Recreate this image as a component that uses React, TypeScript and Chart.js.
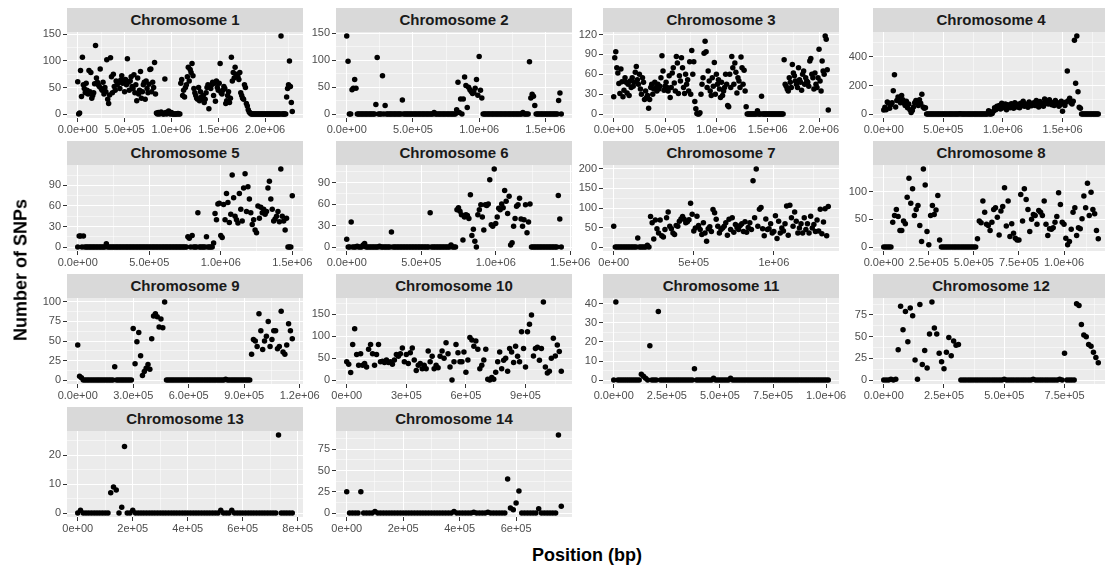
import React, { useEffect, useRef } from "react";
import { Chart, registerables } from "chart.js";

Chart.register(...registerables);

const FONT = "'Liberation Sans', Arial, Helvetica, sans-serif";
// SNPs are counted in consecutive 10 kb windows; window i starts at i * WINDOW_BP
const WINDOW_BP = 10000;

const chr1Snps = [
  61, 0, 2, 82, 33, 107, 55, 48, 40, 58,
  45, 38, 82, 42, 78, 30, 35, 40, 57, 129,
  68, 60, 55, 52, 85, 48, 45, 60, 38, 50,
  42, 102, 28, 20, 36, 106, 70, 40, 75, 52,
  45, 62, 55, 58, 60, 48, 64, 72, 58, 60,
  42, 65, 55, 104, 60, 45, 62, 70, 52, 48,
  74, 40, 55, 25, 68, 38, 45, 80, 30, 42,
  55, 60, 28, 62, 48, 40, 56, 84, 85, 42,
  60, 50, 97, 38, 2, 0, 3, 0, 1, 4,
  2, 0, 0, 66, 3, 0, 2, 6, 1, 0,
  3, 0, 0, 0, 0, 0, 0, 1, 0, 0,
  58, 65, 35, 45, 32, 50, 55, 70, 88, 62,
  84, 78, 95, 72, 48, 40, 35, 30, 28, 50,
  25, 42, 32, 30, 35, 22, 28, 40, 50, 55,
  10, 52, 48, 55, 60, 35, 58, 24, 62, 50,
  45, 58, 95, 40, 38, 45, 52, 48, 20, 25,
  35, 42, 22, 30, 107, 62, 78, 68, 88, 72,
  75, 70, 65, 78, 40, 35, 30, 28, 55, 50,
  20, 15, 8, 4, 2, 0, 0, 0, 0, 0,
  0, 0, 0, 0, 0, 0, 0, 0, 0, 0,
  0, 0, 0, 0, 0, 0, 0, 0, 0, 0,
  0, 0, 0, 0, 0, 0, 0, 147, 0, 0,
  0, 0, 0, 32, 48, 55, 100, 52, 22, 5,
];

const chr2Snps = [
  145, 98, 0, 0, 45, 48, 64, 48, 0, 0,
  0, 0, 0, 0, 0, 0, 0, 0, 0, 0,
  0, 0, 18, 105, 0, 0, 0, 71, 0, 16,
  0, 0, 0, 0, 0, 0, 0, 0, 0, 0,
  0, 0, 26, 0, 0, 0, 0, 0, 0, 0,
  0, 0, 0, 0, 0, 0, 0, 0, 0, 0,
  0, 0, 0, 0, 0, 0, 3, 0, 0, 0,
  0, 0, 0, 0, 0, 0, 0, 0, 0, 0,
  0, 0, 0, 8, 59, 3, 28, 0, 28, 69,
  53, 12, 50, 45, 42, 38, 40, 48, 64, 35,
  107, 44, 30, 0, 0, 0, 0, 0, 0, 0,
  0, 0, 0, 0, 0, 0, 0, 0, 0, 0,
  0, 0, 0, 0, 0, 0, 0, 0, 0, 0,
  0, 0, 0, 3, 0, 0, 0, 0, 97, 30,
  37, 33, 16, 0, 0, 0, 0, 0, 0, 0,
  0, 0, 0, 0, 0, 0, 0, 0, 0, 0,
  25, 39, 0,
];

const chr3Snps = [
  26, 85, 94, 70, 62, 46, 31, 68, 49, 26,
  36, 55, 48, 32, 45, 28, 50, 40, 55, 42,
  48, 63, 72, 52, 45, 60, 38, 30, 55, 48,
  22, 35, 25, 28, 9, 22, 40, 45, 30, 38,
  48, 40, 35, 45, 38, 42, 55, 88, 65, 36,
  42, 48, 40, 35, 58, 25, 40, 62, 70, 47,
  35, 87, 77, 31, 58, 50, 85, 70, 40, 31,
  60, 45, 52, 35, 79, 30, 96, 60, 79, 19,
  8, 1, 0, 0, 2, 30, 45, 55, 92, 110,
  94, 40, 65, 50, 35, 28, 55, 42, 78, 30,
  60, 45, 52, 38, 25, 48, 28, 35, 40, 60,
  45, 13, 11, 60, 40, 87, 70, 45, 77, 63,
  32, 55, 50, 40, 86, 70, 45, 66, 35, 11,
  0, 0, 0, 0, 0, 0, 0, 0, 0, 0,
  5, 0, 0, 0, 27, 0, 0, 0, 0, 0,
  0, 0, 0, 0, 0, 0, 0, 0, 0, 0,
  0, 0, 0, 0, 0, 0, 82, 45, 42, 38,
  35, 55, 48, 40, 75, 62, 58, 50, 45, 40,
  70, 52, 48, 36, 60, 65, 45, 55, 50, 48,
  42, 80, 84, 60, 55, 38, 62, 45, 40, 55,
  98, 50, 35, 80, 65, 60, 118, 113, 67, 6,
];

const chr4Snps = [
  29, 48, 30, 84, 75, 40, 65, 80, 163, 276,
  50, 95, 120, 110, 80, 130, 100, 75, 60, 90,
  45, 70, 30, 12, 25, 50, 80, 95, 85, 60,
  100, 75, 139, 50, 40, 45, 0, 0, 0, 0,
  0, 0, 0, 0, 0, 0, 0, 0, 0, 0,
  0, 0, 0, 0, 0, 0, 0, 0, 0, 0,
  0, 0, 0, 0, 3, 0, 0, 0, 0, 0,
  0, 0, 0, 0, 0, 0, 0, 0, 0, 0,
  0, 0, 0, 0, 0, 0, 0, 0, 24, 0,
  0, 5, 20, 45, 30, 55, 40, 60, 35, 75,
  50, 45, 70, 30, 65, 55, 45, 72, 60, 40,
  80, 58, 50, 68, 45, 75, 60, 90, 55, 70,
  62, 48, 85, 65, 58, 72, 80, 60, 95, 70,
  50, 88, 65, 75, 55, 105, 90, 80, 70, 100,
  85, 65, 75, 60, 95, 70, 80, 55, 65, 90,
  20, 75, 60, 85, 302, 95, 110, 80, 70, 90,
  516, 216, 547, 156, 48, 41, 0, 0, 0, 0,
  0, 0, 0, 0, 0, 0, 0, 0, 0, 0,
  0,
];

const chr5Snps = [
  0, 16, 16, 0, 16, 0, 0, 0, 0, 0,
  0, 0, 0, 0, 0, 0, 0, 0, 0, 0,
  5, 0, 0, 0, 0, 0, 0, 0, 0, 0,
  0, 0, 0, 0, 0, 0, 0, 0, 0, 0,
  0, 0, 0, 0, 0, 0, 0, 0, 0, 0,
  0, 0, 0, 0, 0, 0, 0, 0, 0, 0,
  0, 0, 0, 0, 0, 0, 0, 0, 0, 0,
  0, 0, 0, 0, 0, 0, 0, 15, 13, 0,
  17, 0, 0, 0, 50, 0, 0, 0, 0, 0,
  15, 0, 0, 0, 0, 6, 49, 40, 63, 64,
  17, 14, 62, 40, 78, 65, 36, 48, 105, 72,
  45, 40, 35, 78, 55, 38, 86, 107, 52, 88,
  70, 50, 33, 40, 25, 21, 60, 42, 58, 50,
  55, 48, 52, 86, 96, 70, 55, 38, 41, 45,
  52, 37, 114, 45, 38, 25, 42, 0, 0, 0,
  75,
];

const chr6Snps = [
  11, 0, 0, 35, 0, 0, 0, 1, 0, 0,
  0, 3, 5, 0, 0, 0, 0, 0, 0, 0,
  0, 0, 1, 0, 0, 0, 0, 0, 0, 0,
  21, 0, 0, 0, 0, 0, 0, 0, 0, 0,
  0, 0, 0, 0, 0, 0, 0, 0, 0, 0,
  0, 0, 0, 0, 0, 0, 48, 0, 0, 0,
  0, 0, 0, 0, 0, 0, 0, 0, 0, 0,
  3, 0, 0, 0, 52, 55, 50, 45, 10, 42,
  45, 44, 40, 73, 16, 25, 8, 0, 45, 52,
  59, 42, 24, 59, 58, 60, 94, 31, 29, 109,
  33, 42, 54, 52, 60, 55, 79, 64, 47, 71,
  3, 6, 29, 40, 57, 59, 68, 39, 29, 38,
  59, 20, 35, 60, 0, 0, 0, 0, 0, 0,
  0, 0, 0, 0, 0, 0, 0, 0, 0, 0,
  0, 0, 72, 39, 0,
];

const chr7Snps = [
  53, 0, 0, 0, 0, 0, 0, 0, 0, 0,
  0, 0, 0, 0, 0, 23, 0, 0, 0, 0,
  0, 5, 0, 78, 62, 21, 69, 47, 36, 69,
  29, 26, 45, 75, 90, 53, 47, 36, 32, 55,
  53, 66, 72, 78, 71, 62, 65, 70, 112, 84,
  41, 49, 79, 55, 45, 32, 62, 36, 15, 47,
  52, 40, 96, 88, 71, 53, 36, 45, 49, 53,
  62, 30, 71, 45, 75, 38, 58, 50, 45, 55,
  60, 40, 65, 38, 50, 62, 45, 170, 75, 200,
  53, 97, 101, 47, 29, 72, 45, 47, 60, 36,
  40, 80, 22, 66, 36, 49, 41, 60, 105, 30,
  107, 75, 53, 90, 66, 36, 49, 60, 36, 75,
  45, 60, 36, 79, 49, 58, 40, 69, 41, 97,
  34, 64, 98, 29, 104,
];

const chr8Snps = [
  0, 0, 0, 0, 0, 45, 57, 68, 55, 30,
  30, 47, 42, 90, 124, 79, 105, 57, 68, 75,
  39, 10, 141, 112, 28, 4, 57, 75, 59, 67,
  93, 13, 0, 0, 0, 0, 0, 0, 0, 0,
  0, 0, 0, 0, 0, 0, 0, 0, 0, 0,
  0, 0, 15, 47, 44, 83, 63, 41, 39, 30,
  45, 68, 71, 54, 22, 65, 73, 107, 38, 83,
  19, 42, 25, 16, 13, 13, 95, 47, 105, 86,
  68, 28, 50, 59, 57, 41, 66, 63, 57, 83,
  41, 21, 33, 32, 35, 45, 55, 98, 77, 45,
  41, 16, 4, 10, 32, 63, 71, 21, 35, 33,
  51, 92, 71, 115, 57, 99, 68, 60, 30, 15,
];

const chr9Snps = [
  45, 5, 3, 0, 0, 0, 0, 0, 0, 0,
  0, 0, 0, 0, 0, 0, 0, 0, 0, 0,
  17, 0, 0, 0, 0, 0, 0, 0, 0, 0,
  66, 21, 49, 61, 31, 6, 11, 15, 20, 14,
  53, 82, 85, 81, 68, 78, 67, 100, 0, 0,
  0, 0, 0, 0, 0, 0, 0, 0, 0, 0,
  0, 0, 0, 0, 0, 0, 0, 0, 0, 0,
  0, 0, 0, 0, 0, 0, 0, 0, 0, 0,
  1, 0, 0, 0, 0, 0, 0, 0, 0, 0,
  0, 0, 0, 0, 33, 52, 50, 43, 85, 63,
  39, 50, 56, 75, 43, 52, 63, 63, 40, 43,
  88, 36, 33, 45, 72, 63, 53,
];

const chr10Snps = [
  42, 36, 17, 81, 117, 58, 34, 60, 34, 38,
  30, 70, 81, 60, 34, 58, 81, 42, 43, 40,
  46, 40, 42, 36, 46, 58, 54, 60, 73, 42,
  58, 38, 62, 73, 46, 22, 34, 38, 26, 34,
  26, 66, 42, 54, 26, 34, 28, 54, 66, 50,
  85, 60, 30, 0, 42, 81, 62, 42, 42, 64,
  18, 46, 97, 91, 77, 89, 70, 26, 34, 46,
  70, 2, 0, 6, 2, 18, 42, 64, 26, 45,
  50, 20, 72, 64, 40, 77, 54, 42, 110, 72,
  30, 110, 127, 148, 55, 72, 75, 45, 72, 178,
  30, 16, 20, 50, 95, 55, 80, 65, 20,
];

const chr11Snps = [
  0, 41, 0, 0, 0, 0, 0, 0, 0, 0,
  0, 0, 0, 3, 2, 1, 0, 18, 0, 0,
  0, 36, 0, 0, 0, 0, 0, 0, 0, 0,
  0, 0, 0, 0, 0, 0, 0, 0, 6, 0,
  0, 0, 0, 0, 0, 0, 0, 1, 0, 0,
  0, 0, 0, 0, 0, 1, 0, 0, 0, 0,
  0, 0, 0, 0, 0, 0, 0, 0, 0, 0,
  0, 0, 0, 0, 0, 0, 0, 0, 0, 0,
  0, 0, 0, 0, 0, 0, 0, 0, 0, 0,
  0, 0, 0, 0, 0, 0, 0, 0, 0, 0,
  0, 0,
];

const chr12Snps = [
  0, 0, 0, 1, 0, 1, 35, 85, 58, 79,
  44, 83, 74, 23, 1, 87, 18, 34, 14, 53,
  90, 60, 53, 31, 21, 13, 32, 49, 28, 45,
  40, 41, 0, 0, 0, 0, 0, 0, 0, 0,
  0, 0, 0, 0, 0, 0, 0, 0, 0, 0,
  1, 0, 0, 0, 0, 0, 0, 0, 0, 0,
  0, 0, 1, 0, 0, 0, 0, 0, 0, 0,
  0, 0, 0, 1, 0, 31, 0, 0, 0, 0,
  88, 86, 64, 52, 50, 41, 39, 32, 26, 20,
];

const chr13Snps = [
  0, 1, 0, 0, 0, 0, 0, 0, 0, 0,
  0, 0, 7, 9, 8, 0, 2, 23, 0, 0,
  1, 0, 0, 0, 0, 0, 0, 0, 0, 0,
  0, 0, 0, 0, 0, 0, 0, 0, 0, 0,
  0, 0, 0, 0, 0, 0, 0, 0, 0, 0,
  0, 0, 1, 0, 0, 0, 1, 0, 0, 0,
  0, 0, 0, 0, 0, 0, 0, 0, 0, 0,
  0, 0, 0, 27, 0, 0, 0, 0, 0,
];

const chr14Snps = [
  25, 0, 0, 0, 0, 25, 0, 0, 0, 0,
  2, 0, 0, 0, 0, 0, 0, 0, 0, 0,
  0, 0, 0, 0, 0, 0, 0, 0, 0, 0,
  0, 0, 0, 0, 0, 0, 0, 0, 2, 0,
  0, 0, 0, 0, 0, 1, 0, 0, 0, 0,
  1, 0, 0, 0, 0, 0, 0, 40, 6, 4,
  12, 26, 0, 0, 0, 0, 0, 0, 5, 0,
  0, 0, 0, 0, 0, 92, 8,
];

// x-axis break sets and their labels
const xTicksA = [0, 5e5, 1e6, 1.5e6, 2e6];
const xLabelsA = ["0.0e+00", "5.0e+05", "1.0e+06", "1.5e+06", "2.0e+06"];
const xTicksB = [0, 5e5, 1e6];
const xLabelsB = ["0e+00", "5e+05", "1e+06"];
const xTicksC = [0, 2.5e5, 5e5, 7.5e5, 1e6];
const xLabelsC = ["0.0e+00", "2.5e+05", "5.0e+05", "7.5e+05", "1.0e+06"];
const xTicksD = [0, 3e5, 6e5, 9e5, 1.2e6];
const xLabelsD = ["0.0e+00", "3.0e+05", "6.0e+05", "9.0e+05", "1.2e+06"];
const xTicksE = [0, 3e5, 6e5, 9e5];
const xLabelsE = ["0e+00", "3e+05", "6e+05", "9e+05"];
const xTicksF = [0, 2e5, 4e5, 6e5, 8e5];
const xLabelsF = ["0e+00", "2e+05", "4e+05", "6e+05", "8e+05"];

// y-axis break sets
const yTicks10 = [0, 10, 20, 30, 40];
const yTicks25 = [0, 25, 50, 75, 100];
const yTicks30 = [0, 30, 60, 90, 120];
const yTicks50 = [0, 50, 100, 150, 200];
const yTicks200 = [0, 200, 400];

type PanelCfg = {
  title: string;
  snps: number[];
  xTicks: number[];
  xLabels: string[];
  yTicks: number[];
};

const PANELS: PanelCfg[] = [
  { title: "Chromosome 1", snps: chr1Snps, xTicks: xTicksA, xLabels: xLabelsA, yTicks: yTicks50 },
  { title: "Chromosome 2", snps: chr2Snps, xTicks: xTicksA, xLabels: xLabelsA, yTicks: yTicks50 },
  { title: "Chromosome 3", snps: chr3Snps, xTicks: xTicksA, xLabels: xLabelsA, yTicks: yTicks30 },
  { title: "Chromosome 4", snps: chr4Snps, xTicks: xTicksA, xLabels: xLabelsA, yTicks: yTicks200 },
  { title: "Chromosome 5", snps: chr5Snps, xTicks: xTicksA, xLabels: xLabelsA, yTicks: yTicks30 },
  { title: "Chromosome 6", snps: chr6Snps, xTicks: xTicksA, xLabels: xLabelsA, yTicks: yTicks30 },
  { title: "Chromosome 7", snps: chr7Snps, xTicks: xTicksB, xLabels: xLabelsB, yTicks: yTicks50 },
  { title: "Chromosome 8", snps: chr8Snps, xTicks: xTicksC, xLabels: xLabelsC, yTicks: yTicks50 },
  { title: "Chromosome 9", snps: chr9Snps, xTicks: xTicksD, xLabels: xLabelsD, yTicks: yTicks25 },
  { title: "Chromosome 10", snps: chr10Snps, xTicks: xTicksE, xLabels: xLabelsE, yTicks: yTicks50 },
  { title: "Chromosome 11", snps: chr11Snps, xTicks: xTicksC, xLabels: xLabelsC, yTicks: yTicks10 },
  { title: "Chromosome 12", snps: chr12Snps, xTicks: xTicksC, xLabels: xLabelsC, yTicks: yTicks25 },
  { title: "Chromosome 13", snps: chr13Snps, xTicks: xTicksF, xLabels: xLabelsF, yTicks: yTicks10 },
  { title: "Chromosome 14", snps: chr14Snps, xTicks: xTicksF, xLabels: xLabelsF, yTicks: yTicks25 },
];

// layout
const COL_LEFT = [67, 336, 603, 873];
const ROW_TOP = [8, 141, 274, 407];
const PANEL_W = 236;
const PANEL_H = 86;
const STRIP_H = 24;
const Y_AXIS_W = 50;
const X_AXIS_H = 24;
const RIGHT_PAD = 32;
const TOP_PAD = 10;

function withMinors(majors: number[], lo: number, hi: number): number[] {
  const step = majors[1] - majors[0];
  const all: number[] = [];
  majors.forEach((m) => {
    all.push(m - step / 2, m);
  });
  all.push(majors[majors.length - 1] + step / 2);
  return all.filter((v) => v >= lo && v <= hi);
}

const bgPlugin = {
  id: "panelBg",
  beforeDraw(chart: any) {
    const { ctx, chartArea } = chart;
    ctx.save();
    ctx.fillStyle = "#ebebeb";
    ctx.fillRect(chartArea.left, chartArea.top, chartArea.right - chartArea.left, chartArea.bottom - chartArea.top);
    ctx.restore();
  },
};

function Panel({ cfg, left, top }: { cfg: PanelCfg; left: number; top: number }) {
  const ref = useRef<HTMLCanvasElement>(null);
  const W = Y_AXIS_W + PANEL_W + RIGHT_PAD;
  const H = TOP_PAD + PANEL_H + X_AXIS_H;

  useEffect(() => {
    const canvas = ref.current;
    if (!canvas) return;
    const n = cfg.snps.length;
    const xEnd = (n - 1) * WINDOW_BP;
    const xMin = -0.05 * xEnd;
    const xMax = 1.05 * xEnd;
    const yTop = Math.max(...cfg.snps);
    const yMin = -0.05 * yTop;
    const yMax = 1.05 * yTop;
    const pts = cfg.snps.map((v, i) => ({ x: i * WINDOW_BP, y: v }));

    const xLab = new Map<number, string>();
    cfg.xTicks.forEach((t, i) => xLab.set(t, cfg.xLabels[i]));
    const yLab = new Map<number, string>();
    cfg.yTicks.forEach((t) => yLab.set(t, String(t)));
    const xAll = withMinors(cfg.xTicks, xMin, xMax);
    const yAll = withMinors(cfg.yTicks, yMin, yMax);

    const tickFont = { family: FONT, size: 11 };

    const chart = new Chart(canvas, {
      type: "scatter",
      data: {
        datasets: [
          {
            data: pts,
            pointRadius: 2.75,
            pointHoverRadius: 2.75,
            backgroundColor: "#000000",
            borderColor: "#000000",
            borderWidth: 0,
          },
        ],
      },
      options: {
        animation: false,
        responsive: false,
        devicePixelRatio: 1,
        events: [],
        layout: { padding: { left: 0, right: RIGHT_PAD, top: TOP_PAD, bottom: 0 } },
        plugins: {
          legend: { display: false },
          tooltip: { enabled: false },
          title: { display: false },
        },
        scales: {
          x: {
            type: "linear",
            position: "bottom",
            min: xMin,
            max: xMax,
            afterBuildTicks: (s: any) => {
              s.ticks = xAll.map((v) => ({ value: v }));
            },
            afterFit: (s: any) => {
              s.height = X_AXIS_H;
              s.paddingLeft = 0;
              s.paddingRight = 0;
              s.paddingTop = 0;
              s.paddingBottom = 0;
            },
            border: { display: false },
            grid: {
              color: "#ffffff",
              lineWidth: (c: any) => (xLab.has(c.tick?.value) ? 1 : 0.5),
              tickColor: (c: any) => (xLab.has(c.tick?.value) ? "#333333" : "rgba(0,0,0,0)"),
              tickWidth: 1,
              tickLength: 4,
              drawTicks: true,
            },
            ticks: {
              autoSkip: false,
              maxRotation: 0,
              minRotation: 0,
              padding: 1,
              color: "#4d4d4d",
              font: tickFont,
              callback: (v: any) => xLab.get(Number(v)) ?? "",
            },
          },
          y: {
            type: "linear",
            position: "left",
            min: yMin,
            max: yMax,
            afterBuildTicks: (s: any) => {
              s.ticks = yAll.map((v) => ({ value: v }));
            },
            afterFit: (s: any) => {
              s.width = Y_AXIS_W;
              s.paddingLeft = 0;
              s.paddingRight = 0;
              s.paddingTop = 0;
              s.paddingBottom = 0;
            },
            border: { display: false },
            grid: {
              color: "#ffffff",
              lineWidth: (c: any) => (yLab.has(c.tick?.value) ? 1 : 0.5),
              tickColor: (c: any) => (yLab.has(c.tick?.value) ? "#333333" : "rgba(0,0,0,0)"),
              tickWidth: 1,
              tickLength: 4,
              drawTicks: true,
            },
            ticks: {
              autoSkip: false,
              padding: 2,
              color: "#4d4d4d",
              font: tickFont,
              callback: (v: any) => yLab.get(Number(v)) ?? "",
            },
          },
        },
      } as any,
      plugins: [bgPlugin],
    });
    return () => chart.destroy();
  }, [cfg]);

  return (
    <>
      <div
        style={{
          position: "absolute",
          left,
          top,
          width: PANEL_W,
          height: STRIP_H,
          background: "#d9d9d9",
          color: "#1a1a1a",
          fontFamily: FONT,
          fontWeight: "bold",
          fontSize: 15,
          lineHeight: `${STRIP_H}px`,
          textAlign: "center",
          whiteSpace: "nowrap",
        }}
      >
        {cfg.title}
      </div>
      <canvas
        ref={ref}
        width={W}
        height={H}
        style={{
          position: "absolute",
          left: left - Y_AXIS_W,
          top: top + STRIP_H - TOP_PAD,
          width: W,
          height: H,
        }}
      />
    </>
  );
}

export default function App() {
  return (
    <div
      style={{
        position: "fixed",
        left: 0,
        top: 0,
        width: 1105,
        height: 568,
        overflow: "hidden",
        background: "#ffffff",
      }}
    >
      {PANELS.map((cfg, i) => (
        <Panel key={cfg.title} cfg={cfg} left={COL_LEFT[i % 4]} top={ROW_TOP[Math.floor(i / 4)]} />
      ))}
      <div
        style={{
          position: "absolute",
          left: 21,
          top: 270,
          transform: "translate(-50%, -50%) rotate(-90deg)",
          fontFamily: FONT,
          fontWeight: "bold",
          fontSize: 18,
          color: "#000000",
          whiteSpace: "nowrap",
        }}
      >
        Number of SNPs
      </div>
      <div
        style={{
          position: "absolute",
          left: 587,
          top: 555,
          transform: "translate(-50%, -50%)",
          fontFamily: FONT,
          fontWeight: "bold",
          fontSize: 18,
          color: "#000000",
          whiteSpace: "nowrap",
        }}
      >
        Position (bp)
      </div>
    </div>
  );
}
